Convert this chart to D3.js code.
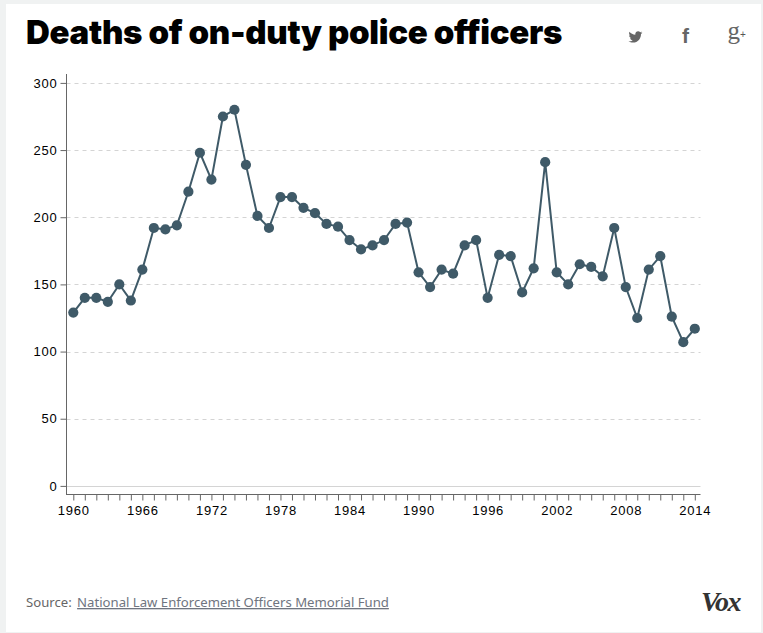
<!DOCTYPE html>
<html><head><meta charset="utf-8">
<script src="https://d3js.org/d3.v7.min.js"></script>
<style>
html,body{margin:0;padding:0;background:#f0f2f2;}
svg{display:block;}
</style></head><body><div id="chart"></div>
<script>
const years = d3.range(1960, 2015);
const deaths = [129,140,140,137,150,138,161,192,191,194,219,248,228,275,280,239,201,192,215,215,207,203,195,193,183,176,179,183,195,196,159,148,161,158,179,183,140,172,171,144,162,241,159,150,165,163,156,192,148,125,161,171,126,107,117];
const yTicks = [0,50,100,150,200,250,300];
const xLabels = [1960,1966,1972,1978,1984,1990,1996,2002,2008,2014];
const titleText = "Deaths of on-duty police officers";
const sourceLabel = "Source: ";
const sourceLink = "National Law Enforcement Officers Memorial Fund";

const W=763,H=633;
const svg=d3.select("#chart").append("svg").attr("width",W).attr("height",H);
svg.append("rect").attr("x",6).attr("y",4).attr("width",755).attr("height",628).attr("fill","#fff");

svg.append("text").attr("x",26).attr("y",44).attr("font-family","Inter, 'Liberation Sans', sans-serif").attr("font-weight",900).attr("font-size",33).attr("letter-spacing",-0.32).attr("fill","#000").text(titleText);

const x=d3.scaleLinear().domain([1960,2014]).range([73.3,694.8]);
const y=d3.scaleLinear().domain([0,300]).range([485.9,82.9]);
const tickFont="'Liberation Sans', sans-serif";

const grid=svg.append("g");
grid.selectAll("line").data(yTicks).join("line")
 .attr("x1",66.5).attr("x2",700.5).attr("y1",d=>Math.round(y(d))+.5).attr("y2",d=>Math.round(y(d))+.5)
 .attr("stroke","#d4d4d4").attr("stroke-width",1).attr("stroke-dasharray",d=>d===0?null:"4,4");

const yAxis=d3.axisLeft(y).tickValues(yTicks).tickSize(6).tickPadding(3);
const yg=svg.append("g").attr("transform","translate(66.5,0)").call(yAxis);
const xAxis=d3.axisBottom(x).tickValues(years).tickSize(6).tickPadding(5).tickFormat(d=>xLabels.includes(d)?String(d):"");
const xg=svg.append("g").attr("transform","translate(0,494.5)").call(xAxis);
[yg,xg].forEach(g=>{
 g.selectAll("path.domain").remove();
 g.selectAll("line").attr("stroke","#666");
 g.selectAll("text").attr("font-family",tickFont).attr("font-size",13).attr("letter-spacing",0.75).attr("fill","#000");
});
svg.append("line").attr("x1",66.5).attr("x2",66.5).attr("y1",74).attr("y2",494.5).attr("stroke","#666");
svg.append("line").attr("x1",66).attr("x2",700.5).attr("y1",494.5).attr("y2",494.5).attr("stroke","#666");

const pts=years.map((yr,i)=>[yr,deaths[i]]);
const line=d3.line().x(d=>x(d[0])).y(d=>y(d[1]));
svg.append("path").attr("d",line(pts)).attr("fill","none").attr("stroke","#3f5a68").attr("stroke-width",2);
svg.append("g").selectAll("circle").data(pts).join("circle").attr("cx",d=>x(d[0])).attr("cy",d=>y(d[1])).attr("r",5.1).attr("fill","#3f5a68");

const src=svg.append("text").attr("x",26).attr("y",607).attr("font-family","'Noto Sans', sans-serif").attr("font-size",13.15).attr("fill","#666");
src.append("tspan").text(sourceLabel);
src.append("tspan").attr("dx",2).attr("text-decoration","underline").attr("fill","#6f7580").text(sourceLink);

svg.append("text").attr("x",701).attr("y",611).attr("font-family","'Liberation Serif', serif").attr("font-weight",700).attr("font-style","italic").attr("font-size",28).attr("letter-spacing",-1.5).attr("fill","#333").text("Vox");

svg.append("path").attr("transform","translate(628.5,30) scale(0.58)")
 .attr("d","M24 4.6c-.9.4-1.8.7-2.8.8 1-.6 1.8-1.6 2.2-2.7-1 .6-2 1-3.1 1.2C19.3 2.8 18 2.2 16.6 2.2c-2.7 0-4.9 2.2-4.9 4.9 0 .4 0 .8.1 1.1C7.7 8 4.1 6.1 1.7 3.1c-.4.7-.7 1.6-.7 2.5 0 1.7.9 3.2 2.2 4.1-.8 0-1.6-.2-2.2-.6v.1c0 2.4 1.7 4.4 3.9 4.8-.4.1-.8.2-1.3.2-.3 0-.6 0-.9-.1.6 2 2.4 3.4 4.6 3.4-1.7 1.3-3.8 2.1-6.1 2.1-.4 0-.8 0-1.2-.1 2.2 1.4 4.8 2.2 7.5 2.2 9.1 0 14-7.5 14-14v-.6c1-.7 1.8-1.6 2.5-2.5z")
 .attr("fill","#666");
svg.append("text").attr("x",682).attr("y",43).attr("font-family","'Liberation Sans', sans-serif").attr("font-weight",700).attr("font-size",21).attr("fill","#666").text("f");
const gp=svg.append("text").attr("x",727.5).attr("y",39).attr("font-family","'Liberation Serif', serif").attr("font-size",25).attr("fill","#666");
gp.append("tspan").text("g");
gp.append("tspan").attr("dy",-1).attr("font-family","'Liberation Sans', sans-serif").attr("font-size",10).attr("fill","#555").text("+");
</script></body></html>
